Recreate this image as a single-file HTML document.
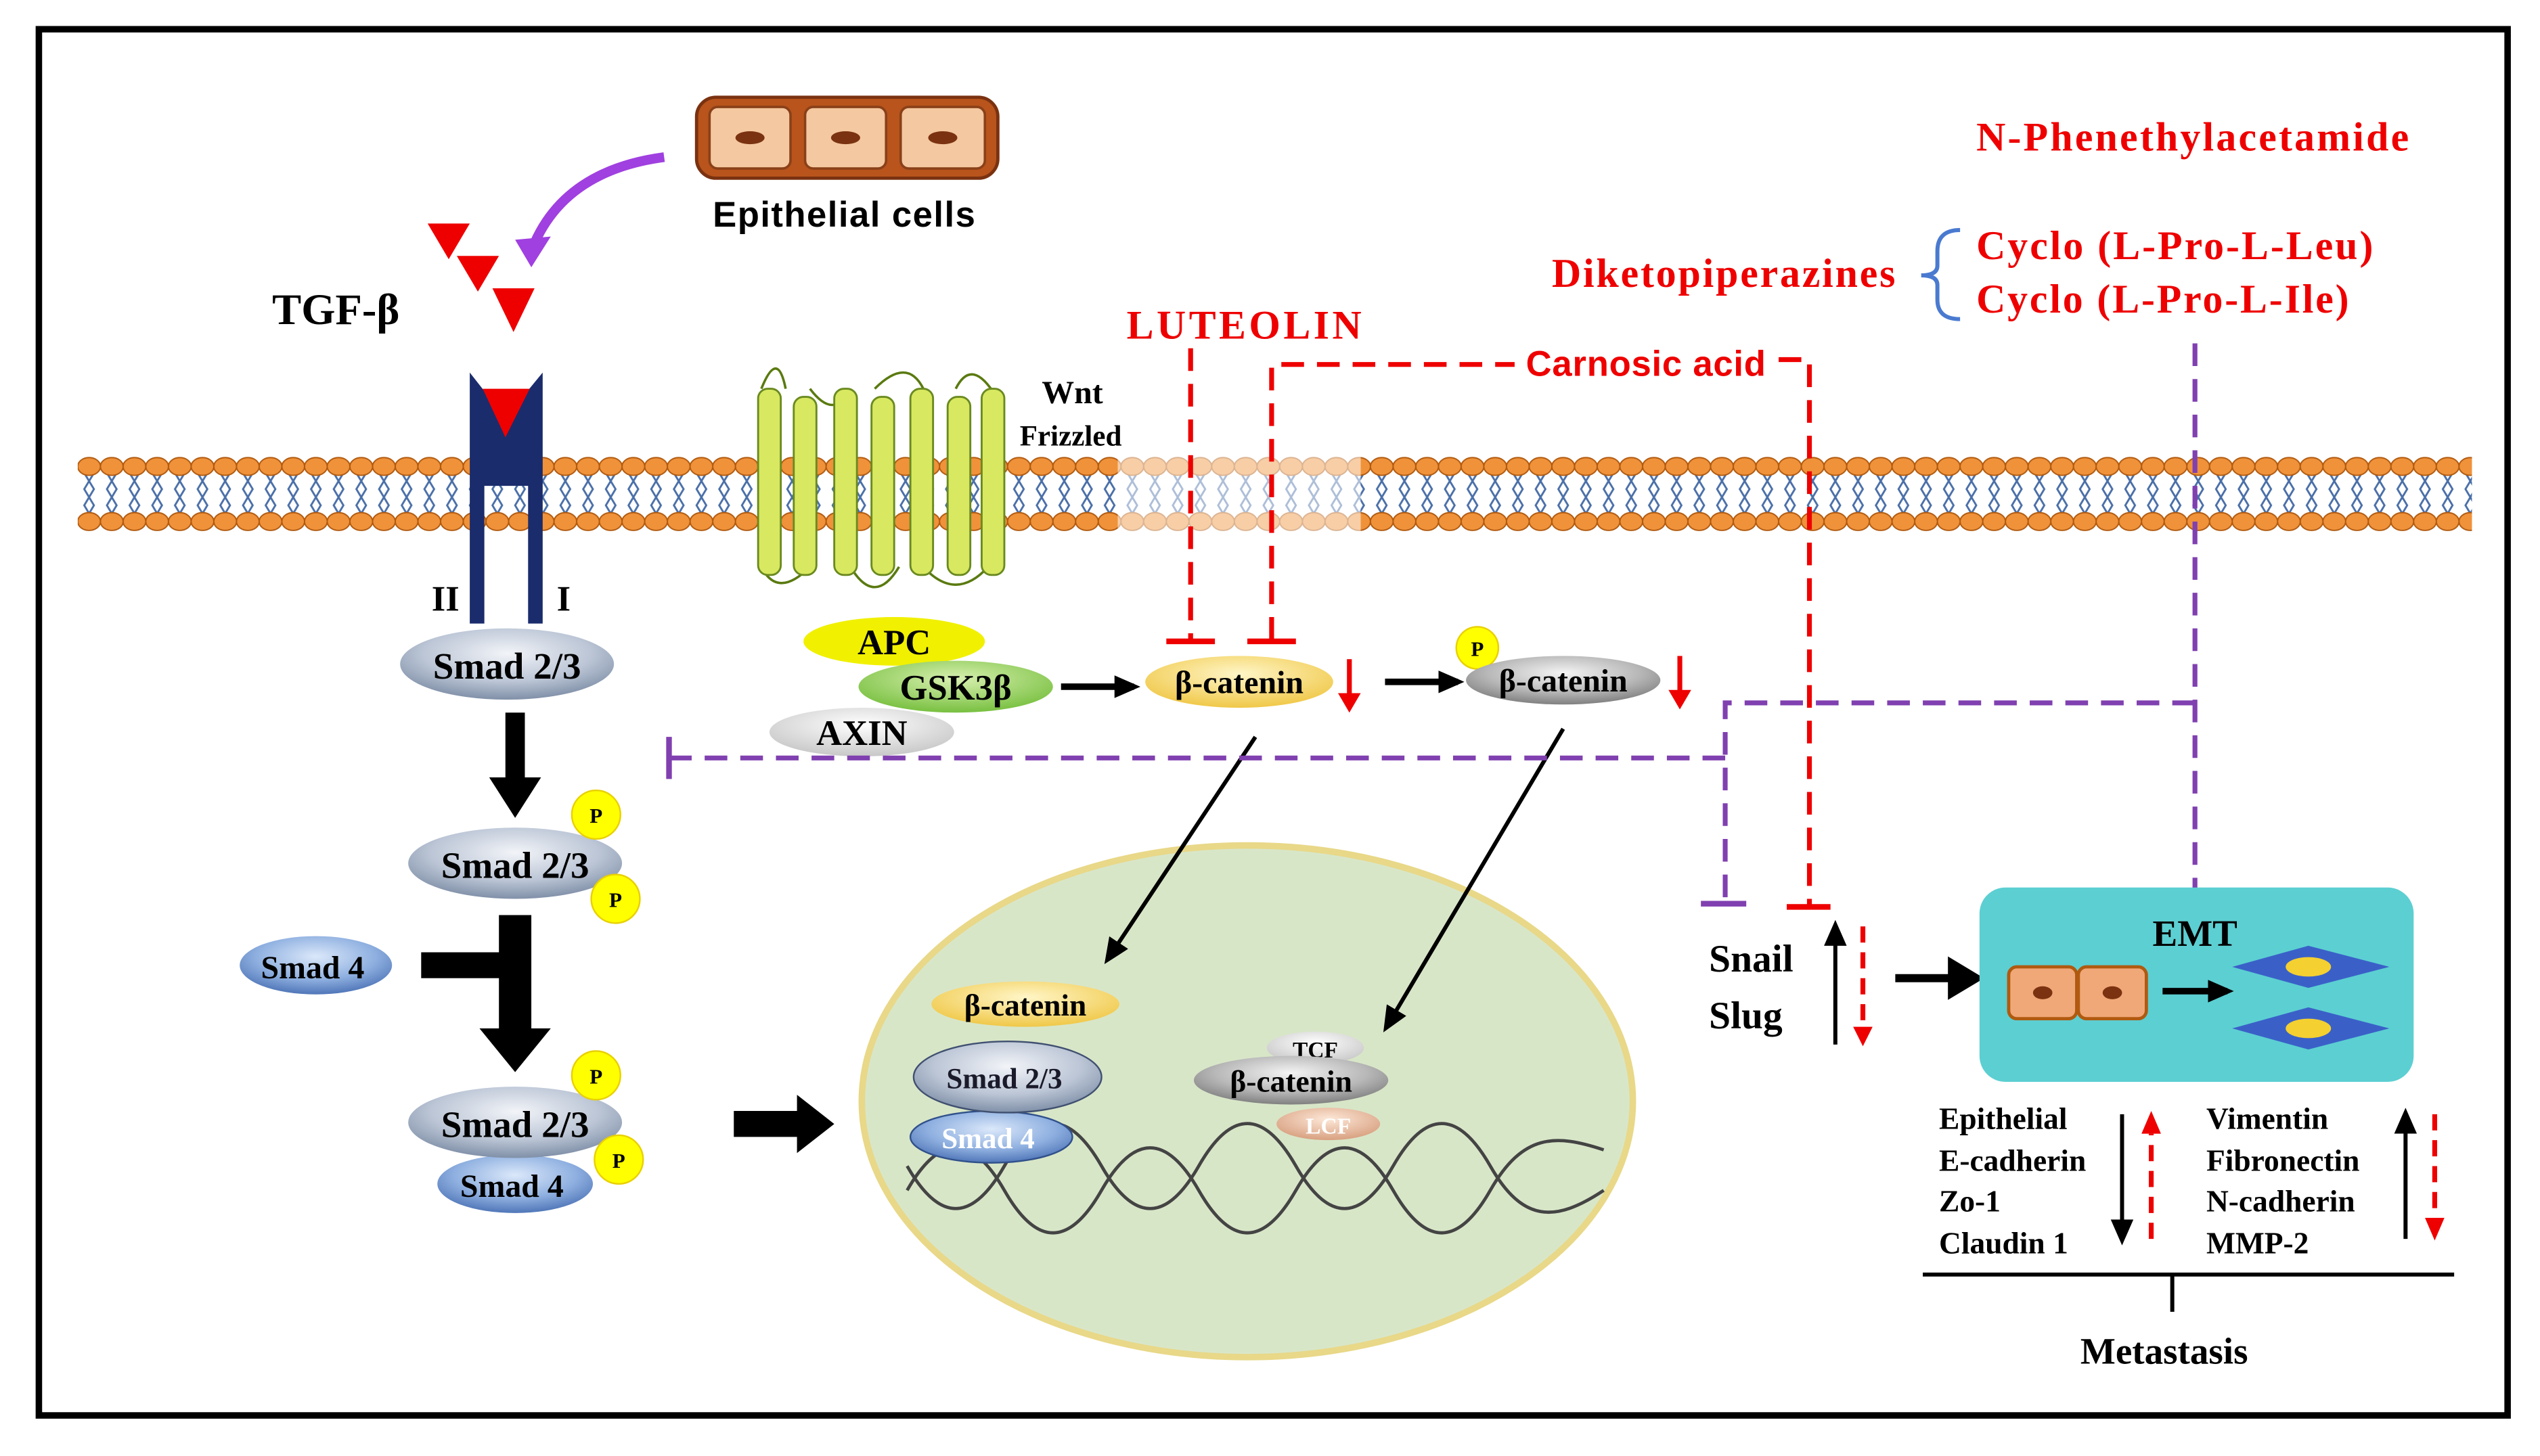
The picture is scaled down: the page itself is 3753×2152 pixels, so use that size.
<!DOCTYPE html>
<html><head><meta charset="utf-8"><style>
html,body{margin:0;padding:0;background:#fff;}
svg{display:block;}
.s{font-family:"Liberation Serif",serif;font-weight:bold;}
.a{font-family:"Liberation Sans",sans-serif;font-weight:bold;}
</style></head><body>
<svg width="3753" height="2152" viewBox="0 0 1568 899" xmlns="http://www.w3.org/2000/svg">
<defs>
<radialGradient id="gs" cx="50%" cy="35%" r="65%"><stop offset="0" stop-color="#f2f4f8"/><stop offset="0.6" stop-color="#bcc6d6"/><stop offset="1" stop-color="#8090a8"/></radialGradient>
<radialGradient id="gb" cx="50%" cy="35%" r="65%"><stop offset="0" stop-color="#dbe8fa"/><stop offset="0.6" stop-color="#8fb0e0"/><stop offset="1" stop-color="#5076b8"/></radialGradient>
<radialGradient id="gy" cx="50%" cy="35%" r="65%"><stop offset="0" stop-color="#fff6c8"/><stop offset="1" stop-color="#f0c848"/></radialGradient>
<radialGradient id="gg" cx="50%" cy="35%" r="65%"><stop offset="0" stop-color="#f4f4f4"/><stop offset="0.6" stop-color="#b8b8b8"/><stop offset="1" stop-color="#808080"/></radialGradient>
<radialGradient id="gr" cx="50%" cy="35%" r="65%"><stop offset="0" stop-color="#d8f0b0"/><stop offset="1" stop-color="#78c040"/></radialGradient>
<radialGradient id="gw" cx="50%" cy="35%" r="65%"><stop offset="0" stop-color="#ffffff"/><stop offset="1" stop-color="#c8c8c8"/></radialGradient>
<radialGradient id="gp" cx="50%" cy="35%" r="65%"><stop offset="0" stop-color="#fde8d8"/><stop offset="1" stop-color="#d8a080"/></radialGradient>
<pattern id="mem" x="48" y="0" width="14" height="899" patternUnits="userSpaceOnUse">
<path d="M4 292 l3 5 -3 5 3 5 -3 5 3 5 M10 292 l-3 5 3 5 -3 5 3 5 -3 5" stroke="#4a6fa8" stroke-width="1.2" fill="none"/>
<ellipse cx="7" cy="288" rx="7" ry="5.5" fill="#f0923a" stroke="#b05a10" stroke-width="0.8"/>
<ellipse cx="7" cy="322" rx="7" ry="5.5" fill="#f0923a" stroke="#b05a10" stroke-width="0.8"/>
</pattern>
<marker id="ah" markerWidth="16" markerHeight="14" refX="12" refY="7" orient="auto" markerUnits="userSpaceOnUse"><path d="M0 0 L16 7 L0 14z" fill="#000"/></marker>
</defs>
<rect x="24" y="18" width="1524" height="856" fill="#fff" stroke="#000" stroke-width="4"/>
<rect x="48" y="282" width="1478" height="46" fill="url(#mem)"/>
<rect x="690" y="282" width="150" height="46" fill="#fff" opacity="0.55"/>
<rect x="430" y="60" width="186" height="50" rx="12" fill="#b8541c" stroke="#7a3210" stroke-width="2"/>
<g fill="#f4c8a0" stroke="#8a4018" stroke-width="1.5">
<rect x="438" y="66" width="50" height="38" rx="5"/><rect x="497" y="66" width="50" height="38" rx="5"/><rect x="556" y="66" width="52" height="38" rx="5"/></g>
<g fill="#7a3210"><ellipse cx="463" cy="85" rx="9" ry="4"/><ellipse cx="522" cy="85" rx="9" ry="4"/><ellipse cx="582" cy="85" rx="9" ry="4"/></g>
<text x="521" y="140" class="a" font-size="22" text-anchor="middle" textLength="162">Epithelial cells</text>
<path d="M410 97 Q350 105 330 150" stroke="#a040e0" stroke-width="6" fill="none"/>
<path d="M318 148 L328 165 L340 146z" fill="#a040e0"/>
<g fill="#e00"><path d="M264 138 L290 138 L277 160z"/><path d="M282 158 L308 158 L295 180z"/><path d="M304 178 L330 178 L317 205z"/></g>
<text x="168" y="200" class="s" font-size="27">TGF-β</text>
<path d="M290 230 L312 258 L335 230 L335 385 L326 385 L326 300 L299 300 L299 385 L290 385z" fill="#1a2c6c"/>
<path d="M298 240 L327 240 L312 270z" fill="#e00"/>
<text x="275" y="377" class="s" font-size="22" text-anchor="middle">II</text>
<text x="348" y="377" class="s" font-size="22" text-anchor="middle">I</text>
<g stroke="#5a7a10" stroke-width="1.5" fill="none">
<path d="M470 240 Q480 215 485 240 M500 240 Q515 260 525 240 M540 240 Q560 220 570 240 M590 240 Q600 220 615 245 M470 350 Q480 370 500 350 M525 350 Q540 375 555 350 M570 350 Q590 372 610 350"/></g>
<g fill="#d8e860" stroke="#6a8a20" stroke-width="1.2">
<rect x="468" y="240" width="14" height="115" rx="6"/><rect x="490" y="245" width="14" height="110" rx="6"/><rect x="515" y="240" width="14" height="115" rx="6"/><rect x="538" y="245" width="14" height="110" rx="6"/><rect x="562" y="240" width="14" height="115" rx="6"/><rect x="585" y="245" width="14" height="110" rx="6"/><rect x="606" y="240" width="14" height="115" rx="6"/></g>
<text x="662" y="249" class="s" font-size="20" text-anchor="middle">Wnt</text>
<text x="661" y="275" class="s" font-size="18" text-anchor="middle">Frizzled</text>
<ellipse cx="313" cy="410" rx="66" ry="22" fill="url(#gs)"/>
<text x="313" y="419" class="s" font-size="23" text-anchor="middle">Smad 2/3</text>
<path d="M312 440 V480 H302 L318 505 L334 480 H324 V440z" fill="#000"/>
<ellipse cx="318" cy="533" rx="66" ry="22" fill="url(#gs)"/>
<text x="318" y="542" class="s" font-size="23" text-anchor="middle">Smad 2/3</text>
<ellipse cx="195" cy="596" rx="47" ry="18" fill="url(#gb)"/>
<text x="193" y="604" class="s" font-size="20" text-anchor="middle">Smad 4</text>
<path d="M308 565 H328 V635 H340 L318 662 L296 635 H308 V604 H260 V588 H308z" fill="#000"/>
<ellipse cx="318" cy="731" rx="48" ry="18" fill="url(#gb)"/>
<text x="316" y="739" class="s" font-size="20" text-anchor="middle">Smad 4</text>
<ellipse cx="318" cy="693" rx="66" ry="22" fill="url(#gs)"/>
<text x="318" y="702" class="s" font-size="23" text-anchor="middle">Smad 2/3</text>
<g fill="#ff0" stroke="#e8d000"><circle cx="368" cy="503" r="15"/><circle cx="380" cy="555" r="15"/><circle cx="368" cy="664" r="15"/><circle cx="382" cy="716" r="15"/><circle cx="912" cy="400" r="13"/><circle cx="679" cy="648" r="13"/><circle cx="686" cy="683" r="13"/><circle cx="738" cy="650" r="13"/></g>
<g class="s" font-size="13" text-anchor="middle"><text x="368" y="508">P</text><text x="380" y="560">P</text><text x="368" y="669">P</text><text x="382" y="721">P</text><text x="912" y="405">P</text><text x="679" y="653">P</text><text x="686" y="688">P</text><text x="738" y="655">P</text></g>
<path d="M453 686 H492 V676 L515 694 L492 712 V702 H453z" fill="#000"/>
<ellipse cx="770" cy="680" rx="238" ry="158" fill="#d8e6c8" stroke="#e8d888" stroke-width="4"/>
<g stroke="#444" stroke-width="2" fill="none">
<path d="M560 735 C580 700,600 700,620 735 S660 770,680 735 S720 700,740 735 S780 770,800 735 S840 700,860 735 S900 770,920 735 S960 700,990 710"/>
<path d="M560 720 C580 755,600 755,620 720 S660 685,680 720 S720 755,740 720 S780 685,800 720 S840 755,860 720 S900 685,920 720 S960 755,990 735"/>
</g>
<ellipse cx="633" cy="620" rx="58" ry="14" fill="url(#gy)"/>
<text x="633" y="627" class="s" font-size="19" text-anchor="middle">β-catenin</text>
<ellipse cx="612" cy="702" rx="50" ry="16" fill="url(#gb)" stroke="#30508a"/>
<text x="610" y="709" class="s" font-size="18" text-anchor="middle" fill="#fff">Smad 4</text>
<ellipse cx="622" cy="665" rx="58" ry="22" fill="url(#gs)" stroke="#405070"/>
<text x="620" y="672" class="s" font-size="18" text-anchor="middle" fill="#1a1a2a">Smad 2/3</text>
<ellipse cx="812" cy="647" rx="30" ry="10" fill="url(#gw)"/>
<text x="812" y="653" class="s" font-size="14" text-anchor="middle">TCF</text>
<ellipse cx="820" cy="694" rx="32" ry="10" fill="url(#gp)"/>
<text x="820" y="700" class="s" font-size="14" text-anchor="middle" fill="#fff">LCF</text>
<ellipse cx="797" cy="667" rx="60" ry="15" fill="url(#gg)"/>
<text x="797" y="674" class="s" font-size="19" text-anchor="middle">β-catenin</text>
<ellipse cx="532" cy="452" rx="57" ry="15" fill="url(#gw)"/>
<text x="532" y="460" class="s" font-size="22" text-anchor="middle">AXIN</text>
<ellipse cx="552" cy="396" rx="56" ry="15" fill="#f0f000"/>
<text x="552" y="404" class="s" font-size="22" text-anchor="middle">APC</text>
<ellipse cx="590" cy="424" rx="60" ry="16" fill="url(#gr)"/>
<text x="590" y="432" class="s" font-size="22" text-anchor="middle">GSK3β</text>
<path d="M655 424 H700" stroke="#000" stroke-width="4" marker-end="url(#ah)"/>
<ellipse cx="765" cy="421" rx="58" ry="16" fill="url(#gy)"/>
<text x="765" y="428" class="s" font-size="20" text-anchor="middle">β-catenin</text>
<path d="M855 421 H900" stroke="#000" stroke-width="4" marker-end="url(#ah)"/>
<ellipse cx="965" cy="420" rx="60" ry="15" fill="url(#gg)"/>
<text x="965" y="427" class="s" font-size="20" text-anchor="middle">β-catenin</text>
<g stroke="#e00" stroke-width="3"><path d="M833 407 V430"/><path d="M1037 405 V428"/></g>
<g fill="#e00"><path d="M826 428 L840 428 L833 440z"/><path d="M1030 426 L1044 426 L1037 438z"/></g>
<g stroke="#000" stroke-width="2.5"><path d="M775 455 L684 592" marker-end="url(#ah)"/><path d="M965 450 L856 634" marker-end="url(#ah)"/></g>
<text x="768" y="209" class="s" font-size="25" fill="#e00" text-anchor="middle" textLength="145">LUTEOLIN</text>
<g stroke="#e00" stroke-width="3" fill="none" stroke-dasharray="14 8">
<path d="M735 215 V395"/><path d="M785 395 V225 H935"/><path d="M1098 222 H1117 V560"/></g>
<g stroke="#e00" stroke-width="3.5"><path d="M720 396 H750"/><path d="M770 396 H800"/><path d="M1103 560 H1130"/></g>
<text x="1016" y="232" class="a" font-size="22" fill="#e00" text-anchor="middle" textLength="148">Carnosic acid</text>
<text x="958" y="177" class="s" font-size="25" fill="#e00" textLength="212">Diketopiperazines</text>
<path d="M1210 142 Q1196 142 1196 155 V164 Q1196 170 1186 170 Q1196 170 1196 176 V185 Q1196 197 1210 197" stroke="#4a7ad0" stroke-width="2.5" fill="none"/>
<text x="1220" y="160" class="s" font-size="25" fill="#e00" textLength="245">Cyclo (L-Pro-L-Leu)</text>
<text x="1220" y="193" class="s" font-size="25" fill="#e00" textLength="230">Cyclo (L-Pro-L-Ile)</text>
<text x="1220" y="93" class="s" font-size="25" fill="#e00" textLength="267">N-Phenethylacetamide</text>
<g stroke="#8040b0" stroke-width="3" fill="none" stroke-dasharray="14 8">
<path d="M1355 212 V558"/><path d="M1355 434 H1065 V558"/><path d="M1065 468 H413"/></g>
<g stroke="#8040b0" stroke-width="3.5"><path d="M1340 558 H1370"/><path d="M1050 558 H1078"/><path d="M413 455 V481"/></g>
<text x="1055" y="600" class="s" font-size="24">Snail</text>
<text x="1055" y="635" class="s" font-size="24">Slug</text>
<path d="M1133 645 V572" stroke="#000" stroke-width="2.5" marker-end="url(#ah)"/>
<path d="M1150 572 V632" stroke="#e00" stroke-width="3" stroke-dasharray="10 6"/>
<path d="M1144 634 L1156 634 L1150 646z" fill="#e00"/>
<path d="M1170 604 H1205 V595 L1220 604 L1205 613 V604" stroke="#000" stroke-width="5" fill="#000"/>
<rect x="1222" y="548" width="268" height="120" rx="16" fill="#5ccfd2"/>
<text x="1355" y="584" class="s" font-size="23" text-anchor="middle">EMT</text>
<g fill="#f0a878" stroke="#b05a10" stroke-width="2"><rect x="1240" y="597" width="42" height="32" rx="5"/><rect x="1283" y="597" width="42" height="32" rx="5"/></g>
<g fill="#7a3210"><ellipse cx="1261" cy="613" rx="6" ry="4"/><ellipse cx="1304" cy="613" rx="6" ry="4"/></g>
<path d="M1335 612 H1375" stroke="#000" stroke-width="4" marker-end="url(#ah)"/>
<g fill="#3a60c8"><path d="M1378 597 L1425 584 L1475 597 L1425 610z"/><path d="M1378 635 L1425 622 L1475 635 L1425 648z"/></g>
<g fill="#f4d030"><ellipse cx="1425" cy="597" rx="14" ry="6"/><ellipse cx="1425" cy="635" rx="14" ry="6"/></g>
<g class="s" font-size="19"><text x="1197" y="697">Epithelial</text><text x="1197" y="723">E-cadherin</text><text x="1197" y="748">Zo-1</text><text x="1197" y="774">Claudin 1</text>
<text x="1362" y="697">Vimentin</text><text x="1362" y="723">Fibronectin</text><text x="1362" y="748">N-cadherin</text><text x="1362" y="774">MMP-2</text></g>
<path d="M1310 688 V765" stroke="#000" stroke-width="2.5" marker-end="url(#ah)"/>
<path d="M1328 765 V700" stroke="#e00" stroke-width="3" stroke-dasharray="10 6"/>
<path d="M1322 700 L1334 700 L1328 686z" fill="#e00"/>
<path d="M1485 765 V688" stroke="#000" stroke-width="2.5" marker-end="url(#ah)"/>
<path d="M1503 688 V752" stroke="#e00" stroke-width="3" stroke-dasharray="10 6"/>
<path d="M1497 752 L1509 752 L1503 766z" fill="#e00"/>
<path d="M1187 787 H1515 M1341 787 V810" stroke="#000" stroke-width="2.5"/>
<text x="1336" y="842" class="s" font-size="23" text-anchor="middle">Metastasis</text>
</svg>
</body></html>
